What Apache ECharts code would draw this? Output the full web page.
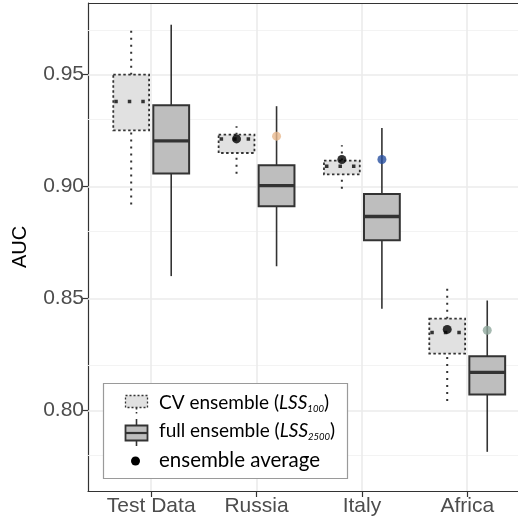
<!DOCTYPE html>
<html>
<head>
<meta charset="utf-8">
<script src="https://cdn.jsdelivr.net/npm/echarts@6/dist/echarts.min.js"></script>
<style>html,body{margin:0;padding:0;background:#fff;overflow:hidden}#c{width:518px;height:524px}</style>
</head>
<body>
<div id="c"></div>
<script>
// ---- data ----
const categories = ['Test Data', 'Russia', 'Italy', 'Africa'];
// [lower whisker, Q1, median, Q3, upper whisker]
const cvBoxes = [
  [0.892, 0.9251, 0.938, 0.950, 0.9714],
  [0.9057, 0.9150, 0.9213, 0.9232, 0.9269],
  [0.8990, 0.9054, 0.9091, 0.9116, 0.9184],
  [0.8042, 0.8254, 0.8348, 0.8410, 0.8566]
];
const fullBoxes = [
  [0.860, 0.9058, 0.9204, 0.9363, 0.9723],
  [0.8644, 0.8912, 0.9004, 0.9095, 0.9359],
  [0.8454, 0.8760, 0.8866, 0.8967, 0.9262],
  [0.7815, 0.8071, 0.8170, 0.8242, 0.8491]
];
const cvAverage = [null, 0.9213, 0.9121, 0.8362];
const fullAverage = [null, 0.9225, 0.9121, 0.8358];
const yTicks = [0.80, 0.85, 0.90, 0.95];
const yMinor = [0.775, 0.825, 0.875, 0.925, 0.975];
const yRange = [0.764, 0.982];

// ---- styles ----
const OFF = 0.19, BW = 0.34;
const avgColors = [null, '#E9B98F', '#2850A0', '#8FA89C'];
const dark = '#333333';
const FONT = 'Liberation Sans, Arial, sans-serif';
const LFONT = 'Lato, sans-serif';

function boxData(boxes, shift) {
  return boxes.map((b, i) => [i + 1 + shift].concat(b));
}

function makeRender(isCV) {
  return function (params, api) {
    const x = api.value(0);
    const cx = api.coord([x, 0])[0];
    const half = api.size([BW, 0])[0] / 2;
    const yMin = api.coord([x, api.value(1)])[1];
    const yQ1 = api.coord([x, api.value(2)])[1];
    const yMed = api.coord([x, api.value(3)])[1];
    const yQ3 = api.coord([x, api.value(4)])[1];
    const yMax = api.coord([x, api.value(5)])[1];
    const wStyle = isCV
      ? { stroke: dark, lineWidth: 2, lineDash: [2, 5], lineCap: 'butt' }
      : { stroke: dark, lineWidth: 1.6 };
    const bStyle = isCV
      ? { fill: '#E1E1E1', stroke: dark, lineWidth: 1.8, lineDash: [2.5, 2.5] }
      : { fill: '#BEBEBE', stroke: dark, lineWidth: 2 };
    const mStyle = isCV
      ? { stroke: dark, lineWidth: 3.5, lineDash: [3.5, 10], lineDashOffset: -1 }
      : { stroke: dark, lineWidth: 3.4 };
    return {
      type: 'group',
      children: [
        { type: 'line', shape: { x1: cx, y1: yQ3, x2: cx, y2: yMax }, style: wStyle },
        { type: 'line', shape: { x1: cx, y1: yMin, x2: cx, y2: yQ1 }, style: wStyle },
        { type: 'rect', shape: { x: cx - half, y: yQ3, width: 2 * half, height: yQ1 - yQ3 }, style: bStyle },
        { type: 'line', shape: { x1: cx - half, y1: yMed, x2: cx + half, y2: yMed }, style: mStyle }
      ]
    };
  };
}

const gridLines = []
  .concat(yTicks.map(v => ({ yAxis: v, lineStyle: { color: '#EBEBEB', width: 1.6, type: 'solid' } })))
  .concat(yMinor.map(v => ({ yAxis: v, lineStyle: { color: '#F2F2F2', width: 0.9, type: 'solid' } })))
  .concat(categories.map((c, i) => ({ xAxis: i + 1, lineStyle: { color: '#EBEBEB', width: 1.6, type: 'solid' } })));

const pts = [];
cvAverage.forEach((v, i) => { if (v != null) pts.push({ value: [i + 1 - OFF, v], itemStyle: { color: '#000' } }); });
fullAverage.forEach((v, i) => { if (v != null) pts.push({ value: [i + 1 + OFF, v], itemStyle: { color: avgColors[i] } }); });

const subRich = {
  i: { fontSize: 19, lineHeight: 22, fontStyle: 'italic', fontFamily: LFONT, verticalAlign: 'middle' },
  s: { fontSize: 9.5, lineHeight: 22, fontStyle: 'italic', fontFamily: LFONT, verticalAlign: 'bottom' }
};

const chart = echarts.init(document.getElementById('c'));
const option = {
  animation: false,
  grid: { left: 88, top: 3, bottom: 33, right: 0, show: false },
  xAxis: {
    type: 'value', min: 0.4, max: 4.482,
    axisLine: { show: true, onZero: false, lineStyle: { color: dark, width: 1.2 } },
    axisTick: { show: true, customValues: [1, 2, 3, 4], length: 6, lineStyle: { color: dark, width: 1.2 } },
    axisLabel: {
      customValues: [1, 2, 3, 4], margin: 5,
      formatter: v => categories[Math.round(v) - 1] || '',
      fontSize: 21, color: '#4D4D4D', fontFamily: FONT
    },
    splitLine: { show: false }
  },
  yAxis: {
    type: 'value', min: yRange[0], max: yRange[1],
    name: 'AUC', nameLocation: 'middle', nameGap: 58,
    nameTextStyle: { fontSize: 20, color: '#000', fontFamily: FONT },
    axisLine: { show: true, lineStyle: { color: dark, width: 1.2 } },
    axisTick: { show: true, customValues: yTicks, length: 6, lineStyle: { color: dark, width: 1.2 } },
    axisLabel: {
      customValues: yTicks, margin: 4,
      formatter: v => v.toFixed(2),
      fontSize: 21, color: '#4D4D4D', fontFamily: FONT
    },
    splitLine: { show: false }
  },
  series: [
    {
      type: 'custom', name: 'full', z: 3,
      renderItem: makeRender(false),
      data: boxData(fullBoxes, OFF),
      encode: { x: 0, y: [1, 2, 3, 4, 5] },
      markLine: { silent: true, z: 1, symbol: ['none', 'none'], label: { show: false }, animation: false, data: gridLines }
    },
    {
      type: 'custom', name: 'cv', z: 3,
      renderItem: makeRender(true),
      data: boxData(cvBoxes, -OFF),
      encode: { x: 0, y: [1, 2, 3, 4, 5] }
    },
    {
      type: 'scatter', name: 'avg', z: 5,
      symbol: 'circle', symbolSize: 9,
      data: pts
    }
  ],
  graphic: [
    // panel top border
    { type: 'line', z: 9, shape: { x1: 88, y1: 3.5, x2: 518, y2: 3.5 }, style: { stroke: dark, lineWidth: 1.2 } },
    { type: 'rect', z: 10, shape: { x: 103.5, y: 383.5, width: 244, height: 95 }, style: { fill: '#fff', stroke: '#9A9A9A', lineWidth: 1.2 } },
    // CV key
    { type: 'line', z: 11, shape: { x1: 136.5, y1: 408, x2: 136.5, y2: 416 }, style: { stroke: dark, lineWidth: 1.6, lineDash: [1.5, 2.5] } },
    { type: 'rect', z: 11, shape: { x: 125.5, y: 395.5, width: 22, height: 12 }, style: { fill: '#E1E1E1', stroke: dark, lineWidth: 1.3, lineDash: [2, 2] } },
    // full key
    { type: 'line', z: 11, shape: { x1: 136.5, y1: 419, x2: 136.5, y2: 446 }, style: { stroke: dark, lineWidth: 1.6 } },
    { type: 'rect', z: 11, shape: { x: 125.5, y: 425.5, width: 22, height: 15 }, style: { fill: '#BEBEBE', stroke: dark, lineWidth: 1.8 } },
    { type: 'line', z: 12, shape: { x1: 125.5, y1: 433, x2: 147.5, y2: 433 }, style: { stroke: dark, lineWidth: 2.2 } },
    // avg key
    { type: 'circle', z: 11, shape: { cx: 135.5, cy: 461, r: 4.5 }, style: { fill: '#000' } },
    {
      type: 'text', z: 12, x: 159, y: 403,
      style: {
        text: 'CV ensemble ({i|LSS}{s|100})',
        fontSize: 19, lineHeight: 22, fontFamily: LFONT, fill: '#000', verticalAlign: 'middle',
        rich: subRich
      }
    },
    {
      type: 'text', z: 12, x: 159, y: 431,
      style: {
        text: 'full ensemble ({i|LSS}{s|2500})',
        fontSize: 19, lineHeight: 22, fontFamily: LFONT, fill: '#000', verticalAlign: 'middle',
        rich: subRich
      }
    },
    {
      type: 'text', z: 12, x: 159, y: 460,
      style: { text: 'ensemble average', fontSize: 20.5, fontFamily: LFONT, fill: '#000', verticalAlign: 'middle' }
    }
  ]
};
chart.setOption(option);
</script>
</body>
</html>
